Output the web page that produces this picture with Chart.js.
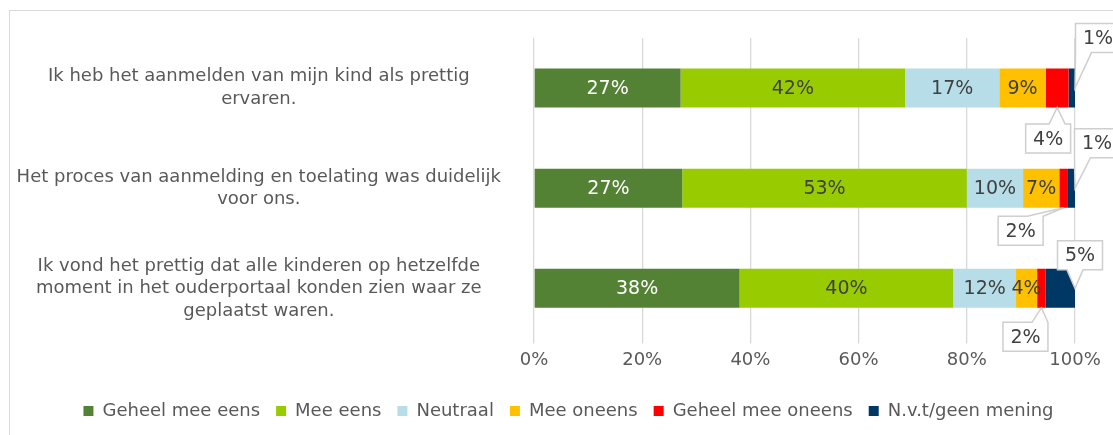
<!DOCTYPE html>
<html>
<head>
<meta charset="utf-8">
<script src="https://cdn.jsdelivr.net/npm/chart.js"></script>
<style>
  body { margin: 0; background: #fff; }
  #frame { position: absolute; left: 9px; top: 10px; width: 1200px; height: 500px; border: 1px solid #d9d9d9; }
  #wrap { position: absolute; left: 0; top: 0; width: 1113px; height: 435px; }
</style>
</head>
<body>
<div id="frame"></div>
<div id="wrap"><canvas id="chart"></canvas></div>
<script>
const categories = [
  ['Ik heb het aanmelden van mijn kind als prettig', 'ervaren.'],
  ['Het proces van aanmelding en toelating was duidelijk', 'voor ons.'],
  ['Ik vond het prettig dat alle kinderen op hetzelfde', 'moment in het ouderportaal konden zien waar ze', 'geplaatst waren.']
];
const seriesNames = ['Geheel mee eens', 'Mee eens', 'Neutraal', 'Mee oneens', 'Geheel mee oneens', 'N.v.t/geen mening'];
const geheelEens   = [27.1, 27.4, 38.0];
const meeEens      = [41.5, 52.6, 39.5];
const neutraal     = [17.4, 10.4, 11.6];
const meeOneens    = [8.6, 6.7, 3.9];
const geheelOneens = [4.2, 1.6, 1.6];
const nvt          = [1.2, 1.3, 5.4];
const xTicks = [0, 20, 40, 60, 80, 100];

const seriesColors = ['#548235', '#99cc00', '#b7dee8', '#ffc000', '#ff0000', '#003865'];
const FONT = '"DejaVu Sans", Verdana, sans-serif';

// small segments get a callout box instead of an inside label
const callouts = [
  { ds: 5, row: 0, at: 'right',  dx: 23,  dy: -50 },
  { ds: 4, row: 0, at: 'bottom', dx: -9,  dy: 31 },
  { ds: 5, row: 1, at: 'right',  dx: 22,  dy: -45 },
  { ds: 4, row: 1, at: 'bottom', dx: -43, dy: 23 },
  { ds: 5, row: 2, at: 'right',  dx: 5,   dy: -33 },
  { ds: 4, row: 2, at: 'bottom', dx: -16, dy: 29 }
];

function drawCallout(ctx, tx, ty, cx, cy, txt) {
  const w = 45, h = 29;
  const l = cx - w / 2, r = cx + w / 2, t = cy - h / 2, b = cy + h / 2;
  const bx = Math.min(Math.max(tx, l + 8), r - 8);
  ctx.beginPath();
  if (ty > b) {
    ctx.moveTo(l, t); ctx.lineTo(r, t); ctx.lineTo(r, b);
    ctx.lineTo(bx + 8, b); ctx.lineTo(tx, ty); ctx.lineTo(bx - 8, b); ctx.lineTo(l, b);
  } else {
    ctx.moveTo(l, t); ctx.lineTo(bx - 8, t); ctx.lineTo(tx, ty); ctx.lineTo(bx + 8, t);
    ctx.lineTo(r, t); ctx.lineTo(r, b); ctx.lineTo(l, b);
  }
  ctx.closePath();
  ctx.fillStyle = '#ffffff';
  ctx.fill();
  ctx.strokeStyle = '#d0cece';
  ctx.lineWidth = 1.5;
  ctx.stroke();
  ctx.fillStyle = '#404040';
  ctx.fillText(txt, cx, cy + 1);
}

const segLabels = {
  id: 'segLabels',
  afterLayout(chart) {
    // legend in the original sits a bit right of the chart's centre
    chart.legend.left += 31;
    chart.legend.right += 31;
  },
  afterDatasetsDraw(chart) {
    const ctx = chart.ctx;
    ctx.save();
    ctx.font = '19px ' + FONT;
    ctx.textAlign = 'center';
    ctx.textBaseline = 'middle';
    chart.data.datasets.forEach((ds, di) => {
      chart.getDatasetMeta(di).data.forEach((bar, ri) => {
        const p = bar.getProps(['x', 'y', 'base', 'height'], true);
        const txt = Math.round(ds.data[ri]) + '%';
        const c = callouts.find(o => o.ds === di && o.row === ri);
        if (c) {
          const tx = c.at === 'right' ? p.x : (p.x + p.base) / 2;
          const ty = c.at === 'right' ? p.y : p.y + p.height / 2;
          drawCallout(ctx, tx, ty, tx + c.dx, ty + c.dy, txt);
        } else {
          ctx.fillStyle = di === 0 ? '#ffffff' : '#404040';
          ctx.fillText(txt, (p.x + p.base) / 2, p.y + 1);
        }
      });
    });
    ctx.restore();
  }
};

const allSeries = [geheelEens, meeEens, neutraal, meeOneens, geheelOneens, nvt];

new Chart(document.getElementById('chart'), {
  type: 'bar',
  data: {
    labels: categories,
    datasets: allSeries.map((d, i) => ({
      label: seriesNames[i],
      data: d,
      backgroundColor: seriesColors[i],
      borderWidth: 0,
      barPercentage: 0.39,
      categoryPercentage: 1
    }))
  },
  options: {
    indexAxis: 'y',
    responsive: true,
    maintainAspectRatio: false,
    animation: false,
    layout: { padding: { top: 38, right: 38, bottom: 5, left: 0 } },
    scales: {
      x: {
        stacked: true,
        min: 0,
        max: 100,
        afterBuildTicks(scale) { scale.ticks = xTicks.map(v => ({ value: v })); },
        afterFit(scale) { scale.height += 9; },
        grid: { color: '#d9d9d9', lineWidth: 1.3, tickLength: 5 },
        border: { display: false },
        ticks: {
          padding: 6,
          color: '#595959',
          font: { family: FONT, size: 18 },
          callback: v => v + '%'
        }
      },
      y: {
        stacked: true,
        grid: { display: false },
        border: { display: false },
        afterFit(scale) {
          scale.width = 534;
          scale.paddingTop = 0;
          scale.paddingBottom = 0;
        },
        ticks: {
          crossAlign: 'center',
          padding: 25,
          color: '#595959',
          font: { family: FONT, size: 18, lineHeight: 1.25 }
        }
      }
    },
    plugins: {
      legend: {
        position: 'bottom',
        labels: {
          boxWidth: 10,
          boxHeight: 10,
          padding: 16,
          color: '#595959',
          font: { family: FONT, size: 18 }
        }
      },
      tooltip: { enabled: false }
    }
  },
  plugins: [segLabels]
});
</script>
</body>
</html>
